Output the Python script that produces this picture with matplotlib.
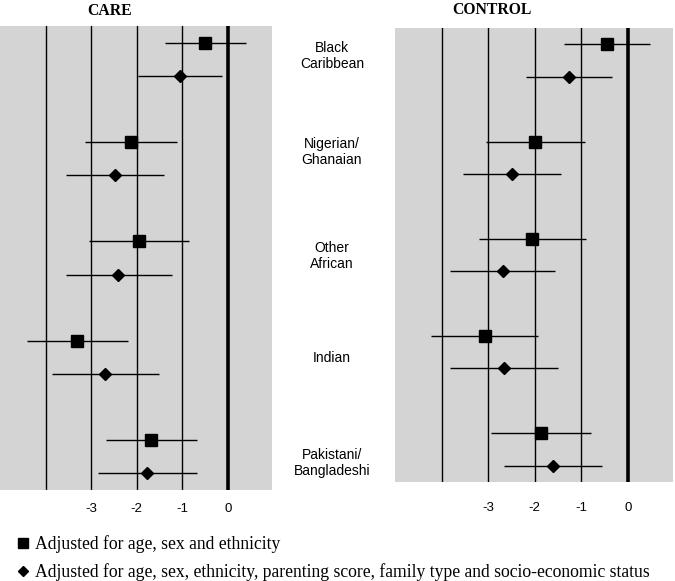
import numpy as np
import matplotlib.pyplot as plt
from matplotlib.lines import Line2D

groups = ['Black\nCaribbean', 'Nigerian/\nGhanaian', 'Other\nAfrican', 'Indian', 'Pakistani/\nBangladeshi']

# CARE panel: estimate and 95% CI
care_sq = [-0.50, -2.12, -1.96, -3.31, -1.68]
care_sq_lo = [-1.38, -3.14, -3.05, -4.40, -2.67]
care_sq_hi = [0.39, -1.11, -0.85, -2.20, -0.67]
care_di = [-1.05, -2.48, -2.40, -2.70, -1.78]
care_di_lo = [-1.98, -3.56, -3.56, -3.85, -2.86]
care_di_hi = [-0.12, -1.39, -1.22, -1.50, -0.68]

# CONTROL panel
ctrl_sq = [-0.45, -1.99, -2.05, -3.06, -1.86]
ctrl_sq_lo = [-1.37, -3.05, -3.19, -4.23, -2.93]
ctrl_sq_hi = [0.47, -0.92, -0.91, -1.93, -0.79]
ctrl_di = [-1.26, -2.48, -2.68, -2.66, -1.61]
ctrl_di_lo = [-2.19, -3.55, -3.83, -3.81, -2.67]
ctrl_di_hi = [-0.35, -1.44, -1.57, -1.51, -0.55]

xticks = [-3, -2, -1, 0]
gridx = [-4, -3, -2, -1]

serif = 'Liberation Serif'
sans = 'Liberation Sans'

fig = plt.figure(figsize=(6.75, 5.81), dpi=100)
ax1 = fig.add_axes([0.0, 0.1566, 0.403, 0.7986])
ax2 = fig.add_axes([0.5852, 0.1709, 0.412, 0.7804])


def panel(ax, sq, sq_lo, sq_hi, di, di_lo, di_hi, pad):
    sq = np.array(sq)
    di = np.array(di)
    ysq = np.arange(len(sq)) * 3
    ydi = ysq + 1
    ax.set_facecolor('#d4d4d4')
    for g in gridx:
        ax.axvline(g, color='black', lw=1.0, zorder=1)
    ax.axvline(0, color='black', lw=2.6, zorder=1)
    ax.errorbar(sq, ysq, xerr=[sq - np.array(sq_lo), np.array(sq_hi) - sq],
                fmt='s', color='black', ms=8, elinewidth=1.0, capsize=0, zorder=3)
    ax.errorbar(di, ydi, xerr=[di - np.array(di_lo), np.array(di_hi) - di],
                fmt='D', color='black', ms=6.5, elinewidth=1.0, capsize=0, zorder=3)
    ax.set_xlim(-5.0, 0.97)
    ax.set_ylim(13.5, -0.5)
    ax.set_yticks([])
    ax.set_xticks(xticks)
    ax.set_xticklabels([str(t) for t in xticks], fontfamily=sans, fontsize=9.5)
    ax.tick_params(axis='x', length=0, pad=pad)
    for s in ax.spines.values():
        s.set_visible(False)


panel(ax1, care_sq, care_sq_lo, care_sq_hi, care_di, care_di_lo, care_di_hi, 9.5)
panel(ax2, ctrl_sq, ctrl_sq_lo, ctrl_sq_hi, ctrl_di, ctrl_di_lo, ctrl_di_hi, 14.4)

fig.text(110 / 675, 1 - 11 / 581, 'CARE', ha='center', va='center',
         fontfamily=serif, fontweight='bold', fontsize=11.3)
fig.text(492 / 675, 1 - 10 / 581, 'CONTROL', ha='center', va='center',
         fontfamily=serif, fontweight='bold', fontsize=11.3)

label_y = [56, 152, 256, 358, 463]
for name, yp in zip(groups, label_y):
    fig.text(332 / 675, 1 - yp / 581, name, ha='center', va='center',
             fontfamily=sans, fontsize=10, linespacing=1.1)

handles = [Line2D([], [], marker='s', ls='none', color='black', ms=7.5),
           Line2D([], [], marker='D', ls='none', color='black', ms=5)]
labels = ['Adjusted for age, sex and ethnicity',
          'Adjusted for age, sex, ethnicity, parenting score, family type and socio-economic status']
fig.legend(handles, labels, loc='upper left', bbox_to_anchor=(0.025, 0.079),
           frameon=False, borderpad=0, borderaxespad=0, handlelength=0.7,
           handletextpad=0.3, labelspacing=0.58,
           prop={'family': serif, 'size': 12.7})

fig.savefig('out.png', dpi=100)
